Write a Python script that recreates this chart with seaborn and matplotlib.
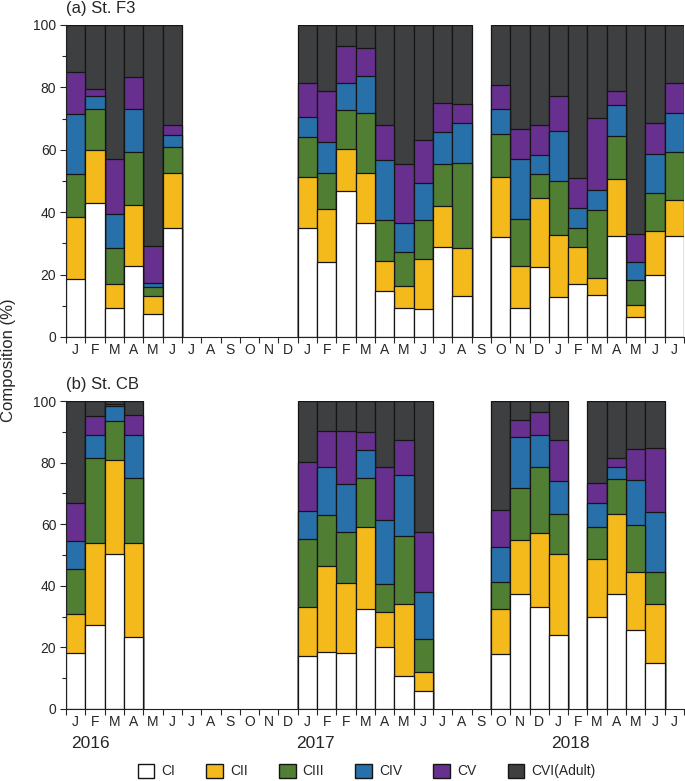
import numpy as np
import pandas as pd
import matplotlib
matplotlib.use("Agg")
import matplotlib.pyplot as plt
from matplotlib.patches import Patch
import seaborn as sns

# x slots: Jan 2016 .. Jul 2018, Feb 2017 sampled twice
slots = ([f"2016-{m:02d}" for m in range(1, 13)]
         + ["2017-01", "2017-02a", "2017-02b"]
         + [f"2017-{m:02d}" for m in range(3, 13)]
         + [f"2018-{m:02d}" for m in range(1, 8)])
month_labels = ["J", "F", "M", "A", "M", "J", "J", "A", "S", "O", "N", "D",
                "J", "F", "F", "M", "A", "M", "J", "J", "A", "S", "O", "N", "D",
                "J", "F", "M", "A", "M", "J", "J"]

stages = ["CI", "CII", "CIII", "CIV", "CV", "CVI(Adult)"]
stage_colors = ["#FFFFFF", "#F4BA1C", "#507E32", "#2870A9", "#68308E", "#3E3F41"]

# St. F3 (%)
f3_dates = ["2016-01", "2016-02", "2016-03", "2016-04", "2016-05", "2016-06",
            "2017-01", "2017-02a", "2017-02b", "2017-03", "2017-04", "2017-05",
            "2017-06", "2017-07", "2017-08",
            "2017-10", "2017-11", "2017-12", "2018-01", "2018-02", "2018-03",
            "2018-04", "2018-05", "2018-06", "2018-07"]
f3_ci = [18.7, 43.1, 9.3, 22.9, 7.4, 34.8, 34.8, 23.9, 46.9, 36.5, 14.6, 9.4, 9.0,
         28.8, 13.2, 31.9, 9.3, 22.3, 12.8, 17.1, 13.6, 32.3, 6.5, 19.9, 32.3]
f3_cii = [19.8, 16.9, 7.7, 19.4, 5.8, 17.9, 16.5, 17.1, 13.5, 16.0, 9.6, 7.1, 16.0,
          13.1, 15.3, 19.5, 13.6, 22.2, 19.9, 11.7, 5.2, 18.4, 3.6, 14.1, 11.5]
f3_ciii = [13.7, 13.0, 11.5, 17.1, 2.9, 8.3, 12.9, 11.7, 12.3, 19.4, 13.3, 10.9, 12.5,
           13.4, 27.4, 13.6, 15.0, 7.8, 17.4, 6.2, 21.8, 13.7, 8.3, 12.1, 15.6]
f3_civ = [19.4, 4.1, 10.8, 13.8, 1.2, 3.9, 6.3, 9.7, 8.6, 11.8, 19.1, 9.0, 11.8,
          10.3, 12.6, 8.0, 19.0, 5.9, 16.0, 6.2, 6.6, 9.9, 5.5, 12.6, 12.5]
f3_cv = [13.2, 2.5, 17.9, 10.2, 11.8, 2.9, 10.8, 16.5, 12.1, 8.8, 11.2, 19.0, 13.9,
         9.5, 6.2, 7.9, 9.8, 9.9, 11.1, 9.9, 23.0, 4.7, 9.0, 10.0, 9.4]
f3_cvi = [15.2, 20.4, 42.8, 16.6, 70.9, 32.2, 18.7, 21.1, 6.6, 7.5, 32.2, 44.6, 36.8,
          24.9, 25.3, 19.1, 33.3, 31.9, 22.8, 48.9, 29.8, 21.0, 67.1, 31.3, 18.7]

# St. CB (%)
cb_dates = ["2016-01", "2016-02", "2016-03", "2016-04",
            "2017-01", "2017-02a", "2017-02b", "2017-03", "2017-04", "2017-05", "2017-06",
            "2017-10", "2017-11", "2017-12", "2018-01",
            "2018-03", "2018-04", "2018-05", "2018-06"]
cb_ci = [18.1, 27.3, 50.2, 23.3, 17.2, 18.5, 18.3, 32.4, 20.0, 10.7, 6.0,
         17.7, 37.2, 33.0, 24.1, 29.9, 37.4, 25.5, 14.9]
cb_cii = [12.6, 26.5, 30.8, 30.5, 16.0, 27.9, 22.5, 26.6, 11.5, 23.3, 6.1,
          14.7, 17.6, 24.3, 26.2, 18.9, 25.8, 19.1, 19.1]
cb_ciii = [14.9, 27.8, 12.6, 21.1, 21.9, 16.6, 16.8, 15.9, 9.2, 22.1, 10.6,
           8.7, 17.1, 21.2, 12.9, 10.2, 11.4, 15.2, 10.4]
cb_civ = [9.1, 7.4, 4.9, 14.1, 9.2, 15.5, 15.6, 9.3, 20.8, 19.9, 15.2,
          11.6, 16.4, 10.5, 10.7, 7.8, 3.9, 14.4, 19.6]
cb_cv = [12.3, 6.0, 0.5, 6.5, 15.9, 11.8, 17.1, 5.6, 17.0, 11.2, 19.5,
         12.0, 5.6, 7.4, 13.3, 6.5, 3.1, 10.2, 20.8]
cb_cvi = [33.0, 5.0, 1.0, 4.5, 19.8, 9.7, 9.7, 10.2, 21.5, 12.8, 42.6,
          35.3, 6.1, 3.6, 12.8, 26.7, 18.4, 15.6, 15.2]

sns.set_style("ticks")
plt.rcParams["font.family"] = ["Liberation Sans", "DejaVu Sans"]


def draw_panel(ax, dates, values):
    df = pd.DataFrame(dict(zip(stages, values)), index=dates)
    cum = df.cumsum(axis=1)
    # overlap cumulative bars, tallest first
    for stage, color in reversed(list(zip(stages, stage_colors))):
        sub = pd.DataFrame({"date": dates, "pct": cum[stage].values})
        sns.barplot(data=sub, x="date", y="pct", order=slots, color=color,
                    saturation=1, width=1.0, edgecolor="#151515", linewidth=0.9,
                    errorbar=None, ax=ax)
    ax.set_xlim(-0.5, len(slots) - 0.5)
    ax.set_ylim(0, 100)
    ax.set_xticks(range(len(slots)))
    ax.set_xticklabels(month_labels)
    ax.set_xticks(np.arange(-0.5, len(slots), 1.0), minor=True)
    ax.set_yticks(range(0, 101, 20))
    ax.set_yticks(range(10, 100, 20), minor=True)
    ax.tick_params(axis="x", which="major", length=0, pad=4.5, labelsize=10)
    ax.tick_params(axis="x", which="minor", length=4, width=0.8, direction="out")
    ax.tick_params(axis="y", which="major", length=4, width=0.8, pad=3, labelsize=10)
    ax.tick_params(axis="y", which="minor", length=3, width=0.8)
    ax.set_xlabel("")
    ax.set_ylabel("")
    sns.despine(ax=ax)
    for sp in ["left", "bottom"]:
        ax.spines[sp].set_linewidth(0.8)
        ax.spines[sp].set_color("#222222")


fig = plt.figure(figsize=(6.85, 7.81), dpi=100)
W, H = 685, 781
ax1 = fig.add_axes([66 / W, 1 - 337 / H, 618 / W, 312 / H])
ax2 = fig.add_axes([66 / W, 1 - 709 / H, 618 / W, 308 / H])

draw_panel(ax1, f3_dates, [f3_ci, f3_cii, f3_ciii, f3_civ, f3_cv, f3_cvi])
draw_panel(ax2, cb_dates, [cb_ci, cb_cii, cb_ciii, cb_civ, cb_cv, cb_cvi])

fig.text(66 / W, 1 - 8 / H, "(a) St. F3", ha="left", va="center", fontsize=12)
fig.text(66 / W, 1 - 384 / H, "(b) St. CB", ha="left", va="center", fontsize=12)
fig.text(9 / W, 1 - 360 / H, "Composition (%)", rotation=90, ha="center",
         va="center", fontsize=12)

for year, xc in zip(["2016", "2017", "2018"], [90, 315, 570]):
    fig.text(xc / W, 1 - 743 / H, year, ha="center", va="center", fontsize=12.5)

handles = [Patch(facecolor=c, edgecolor="#151515", linewidth=1.0) for c in stage_colors]
fig.legend(handles, stages, ncol=6, loc="center", bbox_to_anchor=(0.535, 1 - 771 / H),
           frameon=False, fontsize=10, handlelength=1.2, handleheight=1.2,
           handletextpad=0.5, columnspacing=2.25, borderpad=0.2)

fig.savefig("out.png", dpi=100)
